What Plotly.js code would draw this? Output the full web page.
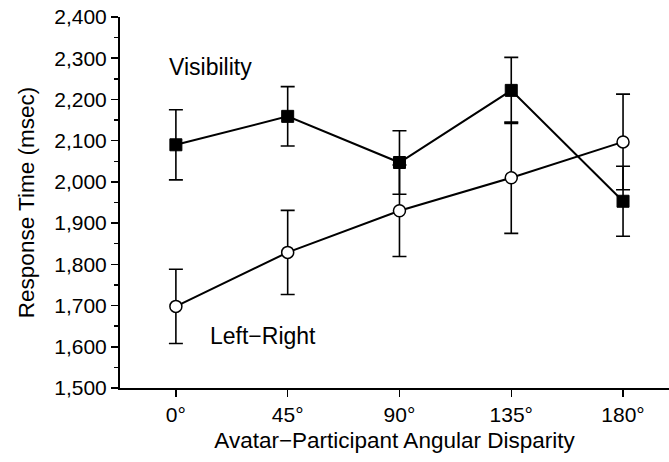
<!DOCTYPE html>
<html>
<head>
<meta charset="utf-8">
<script src="https://cdn.plot.ly/plotly-3.0.1.min.js"></script>
<style>html,body{margin:0;padding:0;background:#fff;}#chart{width:669px;height:462px;}</style>
</head>
<body>
<div id="chart"></div>
<script>
const angles = [0, 45, 90, 135, 180];
const tickLabels = ["0°", "45°", "90°", "135°", "180°"];
const visibilityMean = [2090, 2159, 2047, 2222, 1953];
const visibilityErr = [85, 72, 77, 80, 85];
const leftRightMean = [1698, 1829, 1930, 2010, 2097];
const leftRightErr = [90, 102, 111, 135, 116];
const seriesNames = ["Visibility", "Left−Right"];

const font = "'Liberation Sans', Arial, Helvetica, sans-serif";

const traces = [
  {
    x: angles, y: leftRightMean, name: seriesNames[1], type: "scatter", mode: "lines+markers",
    line: {color: "#000", width: 2},
    marker: {symbol: "circle", size: 12, color: "#fff", line: {color: "#000", width: 1.5}},
    error_y: {type: "data", array: leftRightErr, visible: true, color: "#000", thickness: 1.6, width: 7}
  },
  {
    x: angles, y: visibilityMean, name: seriesNames[0], type: "scatter", mode: "lines+markers",
    line: {color: "#000", width: 2},
    marker: {symbol: "square", size: 12, color: "#000", line: {color: "#000", width: 1}},
    error_y: {type: "data", array: visibilityErr, visible: true, color: "#000", thickness: 1.6, width: 7}
  }
];

const layout = {
  width: 669, height: 462,
  margin: {l: 120, r: 0, t: 17, b: 74, pad: 0},
  paper_bgcolor: "#fff", plot_bgcolor: "#fff",
  showlegend: false,
  font: {family: font, color: "#000", size: 21},
  xaxis: {
    range: [-22.5, 198.5],
    tickmode: "array", tickvals: angles, ticktext: tickLabels,
    ticks: "outside", ticklen: 7, tickwidth: 1.5, tickcolor: "#000",
    showline: true, linecolor: "#000", linewidth: 2,
    showgrid: false, zeroline: false,
    tickfont: {family: font, size: 21, color: "#000"},
    title: {text: "Avatar−Participant Angular Disparity", font: {family: font, size: 22.5, color: "#000"}, standoff: 7}
  },
  yaxis: {
    range: [1500, 2400],
    tickmode: "linear", tick0: 1500, dtick: 100, tickformat: ",d",
    ticks: "outside", ticklen: 7, tickwidth: 1.5, tickcolor: "#000",
    minor: {dtick: 50, ticks: "outside", ticklen: 4, tickwidth: 1.5, tickcolor: "#000", showgrid: false},
    showline: true, linecolor: "#000", linewidth: 2,
    showgrid: false, zeroline: false,
    tickfont: {family: font, size: 21, color: "#000"},
    title: {text: "Response Time (msec)", font: {family: font, size: 22.5, color: "#000"}, standoff: 13}
  },
  annotations: [
    {x: -3.6, y: 2279, xref: "x", yref: "y", text: seriesNames[0], showarrow: false, xanchor: "left", yanchor: "middle", font: {family: font, size: 23, color: "#000"}},
    {x: 12.9, y: 1627, xref: "x", yref: "y", text: seriesNames[1], showarrow: false, xanchor: "left", yanchor: "middle", font: {family: font, size: 23, color: "#000"}}
  ]
};

Plotly.newPlot("chart", traces, layout, {displayModeBar: false, staticPlot: true});
</script>
</body>
</html>
